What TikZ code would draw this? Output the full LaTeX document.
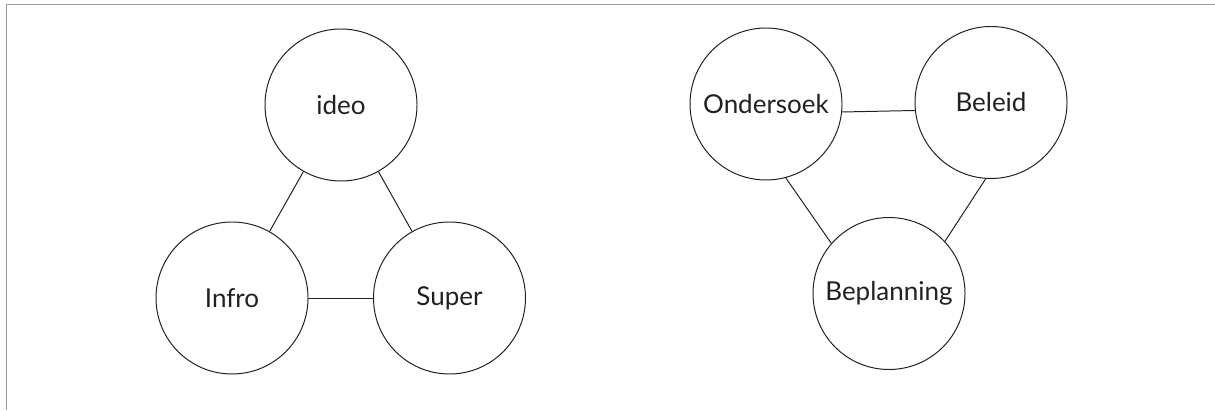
\documentclass[tikz,border=0pt]{standalone}
\usepackage{fontspec}
\setmainfont{Lato}
\usepackage{tikz}
\usetikzlibrary{positioning}
\pgfdeclarelayer{nodelayer}
\pgfdeclarelayer{edgelayer}
\pgfsetlayers{edgelayer,nodelayer,main}
\definecolor{inkgrey}{HTML}{231F20}
\definecolor{rulegrey}{HTML}{9A9A9A}
\tikzstyle{bubble}=[shape=circle, draw=inkgrey, line width=0.7pt, minimum size=3.8cm, inner sep=0pt, text=inkgrey, font=\fontsize{18.5}{22}\selectfont]
\tikzstyle{link}=[draw=inkgrey, line width=0.7pt]
\tikzstyle{frame}=[draw=rulegrey, line width=1.1pt]

\begin{document}
\begin{tikzpicture}
        \useasboundingbox (0,0) rectangle (30.375,10.25);
        \draw [style=frame] (0.1625,0) -- (0.1625,10.14) -- (30.375,10.14);
        \begin{pgfonlayer}{nodelayer}
            \node [style=bubble] (0) at (8.525, 7.625) {ideo};
            \node [style=bubble] (1) at (5.8, 2.8) {Infro};
            \node [style=bubble] (2) at (11.2375, 2.8) {Super};
            \node [style=bubble] (3) at (19.15, 7.65) {Ondersoek};
            \node [style=bubble] (4) at (24.775, 7.6875) {Beleid};
            \node [style=bubble] (5) at (22.225, 2.9125) {Beplanning};
        \end{pgfonlayer}
        \begin{pgfonlayer}{edgelayer}
            \draw [style=link] (0) to (1);
            \draw [style=link] (0) to (2);
            \draw [style=link] (1) to (2);
            \draw [style=link] (3.-6) to (4.186);
            \draw [style=link] (3.-75) to (5.139);
            \draw [style=link] (4.-94) to (5.43);
        \end{pgfonlayer}
    \end{tikzpicture}
\end{document}
